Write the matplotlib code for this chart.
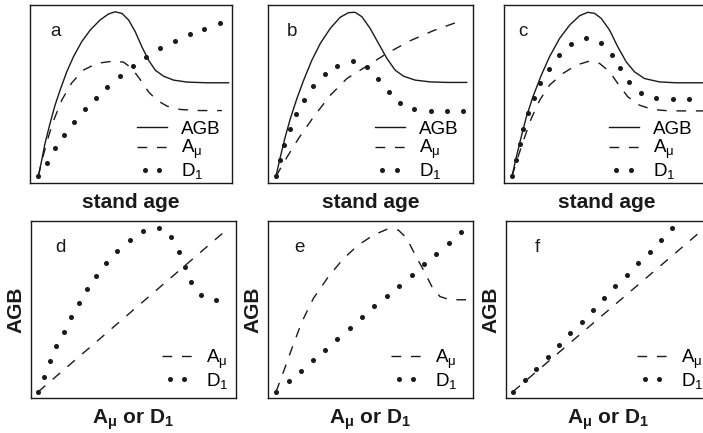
import matplotlib
matplotlib.use("Agg")
import matplotlib.pyplot as plt
from matplotlib.legend_handler import HandlerLine2D

plt.rcParams['font.family'] = ['Liberation Sans', 'DejaVu Sans']
plt.rcParams['mathtext.fontset'] = 'custom'
plt.rcParams['mathtext.rm'] = 'Liberation Sans'
plt.rcParams['mathtext.it'] = 'Liberation Sans:italic'
plt.rcParams['mathtext.bf'] = 'Liberation Sans:bold'

INK = '#1a1a1a'

# ---- panel a : stand age vs AGB / A_mu / D1 ----
a_agb_x = [4.1, 5.8, 7.4, 9.9, 12.4, 14.9, 18.2, 21.5, 25.6, 29.8, 34.7, 38.8, 42.1, 45.5,
           48.8, 52.1, 55.4, 58.7, 62.0, 66.1, 71.1, 77.7, 87.6, 98.3]
a_agb_y = [3.8, 12.8, 22.1, 33.4, 43.7, 52.2, 62.5, 70.9, 79.4, 85.9, 91.6, 94.9, 96.2, 95.3,
           91.6, 85.0, 76.5, 69.0, 63.4, 60.0, 57.8, 56.7, 56.3, 56.3]
a_amu_x = [4.1, 6.6, 9.1, 11.6, 15.7, 20.7, 26.4, 33.1, 41.3, 46.3, 50.4, 54.5, 58.7, 62.8,
           67.8, 74.4, 84.3, 95.0]
a_amu_y = [3.8, 15.6, 25.9, 34.9, 46.5, 56.3, 63.4, 67.2, 68.5, 67.9, 64.4, 58.2, 51.2, 46.5,
           43.2, 41.3, 40.7, 40.7]
a_d1_x = [4.1, 8.3, 12.4, 17.0, 21.8, 27.3, 32.7, 38.3, 44.6, 50.9, 57.5, 64.6, 71.6, 79.0,
          86.3, 94.2]
a_d1_y = [3.8, 11.4, 19.5, 26.8, 34.3, 41.3, 47.8, 54.2, 60.2, 66.0, 70.9, 75.6, 79.7, 83.7,
          86.7, 90.1]

# ---- panel b ----
b_agb_x = [3.9, 6.0, 8.4, 10.9, 14.1, 17.4, 21.4, 25.5, 30.4, 35.2, 39.3, 42.5, 45.8, 49.8,
           53.9, 58.0, 62.0, 66.1, 71.8, 79.1, 87.2, 96.9]
b_agb_y = [3.8, 14.6, 25.9, 36.2, 47.5, 57.8, 69.0, 78.4, 86.9, 93.1, 95.7, 95.9, 93.4, 86.9,
           78.4, 70.0, 63.4, 60.0, 57.8, 56.8, 56.5, 56.5]
b_amu_x = [3.9, 9.3, 14.9, 22.2, 30.4, 38.5, 48.2, 58.0, 69.3, 80.7, 95.3]
b_amu_y = [3.8, 14.6, 25.0, 37.1, 49.3, 58.7, 65.7, 72.8, 79.9, 85.6, 91.6]
b_d1_x = [3.9, 6.0, 8.0, 10.9, 13.8, 17.7, 21.9, 27.6, 33.9, 41.4, 48.5, 53.9, 58.8, 64.4,
          71.4, 79.5, 87.5, 95.3]
b_d1_y = [3.8, 12.8, 21.6, 30.4, 38.6, 46.9, 54.4, 61.2, 66.0, 68.3, 65.3, 58.2, 51.2, 44.7,
          41.8, 40.5, 40.5, 40.5]

# ---- panel c ----
c_agb_x = [3.9, 6.0, 8.4, 10.9, 14.1, 18.2, 22.2, 27.1, 32.0, 36.9, 40.9, 44.2, 47.4, 51.5,
           55.5, 59.6, 63.6, 68.5, 75.8, 83.9, 98.5]
c_agb_y = [3.8, 14.6, 25.9, 37.1, 48.4, 60.6, 70.9, 81.2, 88.7, 94.0, 95.9, 95.3, 92.5, 85.9,
           76.5, 68.1, 62.5, 58.7, 56.8, 56.3, 56.3]
c_amu_x = [3.9, 6.8, 10.1, 13.3, 17.4, 22.2, 28.7, 35.2, 41.7, 46.6, 51.5, 55.5, 60.4, 66.1,
           72.6, 80.7, 98.5]
c_amu_y = [3.8, 14.6, 25.9, 36.2, 46.5, 55.0, 61.5, 66.2, 68.5, 67.2, 62.5, 55.9, 48.4, 43.7,
           41.3, 40.5, 40.5]
c_d1_x = [3.9, 5.7, 7.6, 9.4, 11.7, 14.4, 17.7, 21.9, 26.8, 32.5, 39.8, 47.4, 52.6, 56.5,
          60.9, 66.9, 74.2, 82.3, 90.1, 97.9]
c_d1_y = [3.8, 12.8, 21.8, 30.6, 39.4, 48.0, 56.3, 64.2, 71.9, 78.0, 81.4, 78.8, 71.9, 64.4,
          56.8, 50.3, 47.7, 47.3, 47.3, 47.3]

# ---- panel d : A_mu or D1 vs AGB ----
d_amu_x = [3.4, 96.3]
d_amu_y = [3.4, 95.9]
d_d1_x = [3.4, 6.2, 9.4, 12.3, 15.9, 19.5, 23.2, 27.3, 31.8, 36.7, 41.9, 48.1, 54.5, 62.2,
          68.3, 72.2, 75.2, 78.1, 83.0, 90.3]
d_d1_y = [3.4, 12.0, 20.7, 29.1, 37.2, 45.7, 53.6, 61.5, 69.0, 76.5, 83.1, 89.3, 94.4, 95.9,
          90.8, 82.7, 73.9, 65.6, 58.3, 55.6]

# ---- panel e ----
e_amu_x = [3.9, 7.6, 11.7, 16.6, 22.2, 29.5, 36.9, 44.2, 51.5, 58.0, 63.6, 67.7, 71.8, 75.8,
           79.9, 83.9, 88.8, 98.5]
e_amu_y = [3.4, 15.0, 28.2, 43.2, 56.4, 68.6, 78.9, 86.5, 92.1, 95.3, 94.9, 90.2, 80.8, 72.4,
           63.0, 57.3, 55.5, 55.5]
e_d1_x = [3.9, 10.1, 16.1, 21.9, 27.9, 33.9, 39.8, 45.9, 51.9, 58.0, 64.0, 70.1, 76.1, 82.0,
          88.1, 94.2]
e_d1_y = [3.4, 9.8, 15.4, 21.4, 27.4, 33.5, 39.5, 45.5, 51.7, 57.7, 63.3, 69.5, 75.6, 81.6,
          87.4, 93.6]

# ---- panel f ----
f_amu_x = [3.2, 97.9]
f_amu_y = [3.4, 97.0]
f_d1_x = [3.2, 9.1, 14.8, 20.3, 25.8, 31.3, 36.9, 42.4, 47.9, 53.4, 58.9, 64.4, 70.0, 75.5, 80.8]
f_d1_y = [3.4, 10.3, 16.5, 23.1, 30.1, 36.7, 43.2, 49.8, 56.4, 63.0, 69.5, 76.1, 82.7, 89.3, 95.9]

lbl_agb = 'AGB'
lbl_amu = r'A$_\mathregular{\mu}$'
lbl_d1 = r'D$_\mathregular{1}$'
xlab_top = 'stand age'
xlab_bot = r'A$_\mathregular{\mu}$ or D$_\mathregular{1}$'

W, H = 703.0, 433.0
LEG_FS = 13.5


def make_axes(fig, left, right, top, bottom):
    ax = fig.add_axes([left / W, (H - bottom) / H, (right - left) / W, (bottom - top) / H])
    ax.set_xlim(0, 100)
    ax.set_ylim(0, 100)
    ax.set_xticks([])
    ax.set_yticks([])
    for s in ax.spines.values():
        s.set_linewidth(1.0)
        s.set_color(INK)
    return ax


def draw(ax, letter, letter_x, agb=None, amu=None, d1=None, leg_x=0.53, leg_y=0.01):
    handles = []
    hmap = {}
    if agb is not None:
        h, = ax.plot(agb[0], agb[1], color=INK, lw=1.0, label=lbl_agb)
        handles.append(h)
        hmap[h] = HandlerLine2D(marker_pad=0)
    if amu is not None:
        h, = ax.plot(amu[0], amu[1], color=INK, lw=1.0, dashes=(7, 7), label=lbl_amu)
        handles.append(h)
        hmap[h] = HandlerLine2D(marker_pad=0)
    if d1 is not None:
        h, = ax.plot(d1[0], d1[1], color=INK, ls='none', marker='o', ms=2.6, label=lbl_d1)
        handles.append(h)
        hmap[h] = HandlerLine2D(marker_pad=0.42)
    ax.text(letter_x, 0.85, letter, transform=ax.transAxes, fontsize=13.5,
            ha='left', va='center', color=INK)
    ax.legend(handles=handles, handler_map=hmap, loc='lower left',
              bbox_to_anchor=(leg_x, leg_y), frameon=False, fontsize=LEG_FS,
              handlelength=1.6, handletextpad=0.75, labelspacing=0.0,
              borderpad=0, borderaxespad=0, numpoints=2)


fig = plt.figure(figsize=(7.03, 4.33), dpi=100)

ax_a = make_axes(fig, 30, 232, 5, 183)
ax_b = make_axes(fig, 268, 473, 5, 183)
ax_c = make_axes(fig, 504, 709, 5, 183)
ax_d = make_axes(fig, 31, 236, 221, 398)
ax_e = make_axes(fig, 268, 473, 221, 398)
ax_f = make_axes(fig, 506, 711, 221, 398)

draw(ax_a, 'a', 0.10, (a_agb_x, a_agb_y), (a_amu_x, a_amu_y), (a_d1_x, a_d1_y))
draw(ax_b, 'b', 0.09, (b_agb_x, b_agb_y), (b_amu_x, b_amu_y), (b_d1_x, b_d1_y), leg_x=0.52)
draw(ax_c, 'c', 0.07, (c_agb_x, c_agb_y), (c_amu_x, c_amu_y), (c_d1_x, c_d1_y), leg_x=0.51)
draw(ax_d, 'd', 0.12, None, (d_amu_x, d_amu_y), (d_d1_x, d_d1_y), leg_x=0.64, leg_y=0.04)
draw(ax_e, 'e', 0.13, None, (e_amu_x, e_amu_y), (e_d1_x, e_d1_y), leg_x=0.60, leg_y=0.04)
draw(ax_f, 'f', 0.14, None, (f_amu_x, f_amu_y), (f_d1_x, f_d1_y), leg_x=0.64, leg_y=0.04)

for ax in (ax_a, ax_b, ax_c):
    ax.set_xlabel(xlab_top, fontsize=15, fontweight='bold', labelpad=7, color=INK)
for ax in (ax_d, ax_e, ax_f):
    ax.set_xlabel(xlab_bot, fontsize=15, fontweight='bold', labelpad=7, color=INK)
    ax.set_ylabel('AGB', fontsize=15, fontweight='bold', labelpad=4, color=INK)

fig.savefig('out.png', dpi=100)
